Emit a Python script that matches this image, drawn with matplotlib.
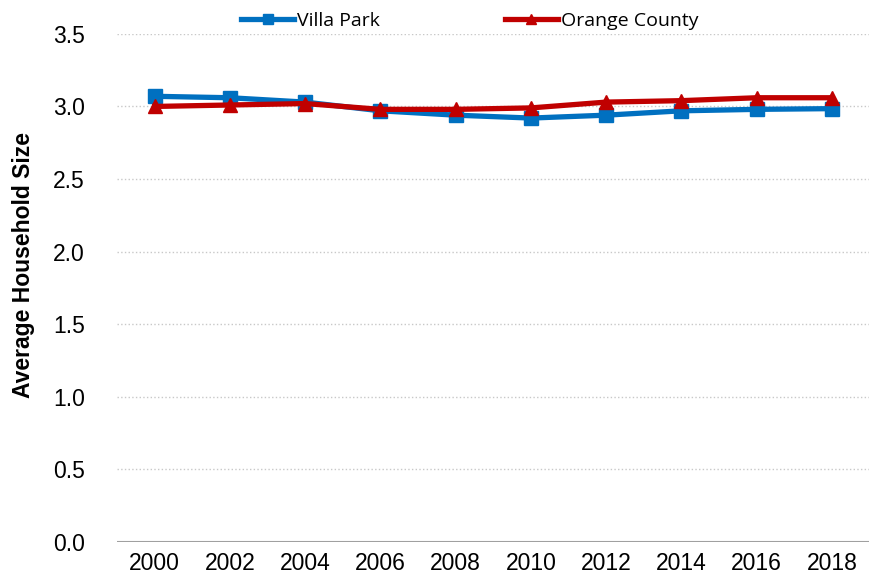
import matplotlib
matplotlib.use("Agg")
import matplotlib.pyplot as plt
import numpy as np

# data
years = ["2000", "2002", "2004", "2006", "2008", "2010", "2012", "2014", "2016", "2018"]
villa_park = [3.07, 3.06, 3.03, 2.97, 2.94, 2.92, 2.94, 2.97, 2.98, 2.985]
orange_county = [3.00, 3.01, 3.02, 2.98, 2.98, 2.99, 3.03, 3.04, 3.06, 3.06]

plt.rcParams['font.family'] = ['Liberation Sans Narrow', 'Liberation Sans', 'DejaVu Sans']

fig = plt.figure(figsize=(8.7, 5.84), dpi=100)
ax = fig.add_axes([0.1345, 0.072, 0.865, 0.87])

x = np.arange(len(years))
ax.plot(x, villa_park, color='#0070C0', lw=3.8, marker='s', ms=10,
        label='Villa Park', zorder=3)
ax.plot(x, orange_county, color='#C00000', lw=3.8, marker='^', ms=10,
        label='Orange County', zorder=4)

ax.set_xlim(-0.5, len(years) - 0.5)
ax.set_ylim(0, 3.5)
yt = np.arange(0, 3.51, 0.5)
ax.set_yticks(yt)
ax.set_yticklabels([f"{v:.1f}" for v in yt])
ax.set_xticks(x)
ax.set_xticklabels(years)
ax.tick_params(axis='both', length=0, labelsize=16.5, colors='black')
ax.tick_params(axis='y', pad=23)
ax.tick_params(axis='x', pad=7)

for s in ['top', 'right', 'left', 'bottom']:
    ax.spines[s].set_visible(False)
ax.axhline(0, color='#a0a0a0', lw=1.5, zorder=2)
ax.yaxis.grid(True, color='#c8c8c8', ls=':', lw=1)
ax.set_axisbelow(True)

ax.set_ylabel('Average Household Size', fontsize=16.5, fontweight='bold')
ax.yaxis.set_label_coords(-0.109, 0.545)

fig.legend(loc='upper center', bbox_to_anchor=(0.54, 1.01), ncol=2, frameon=False,
           handlelength=2.7, handletextpad=0.15, columnspacing=6.45, markerscale=0.75,
           prop={'family': ['Open Sans', 'DejaVu Sans'], 'size': 14})

fig.savefig('out.png', dpi=100)
